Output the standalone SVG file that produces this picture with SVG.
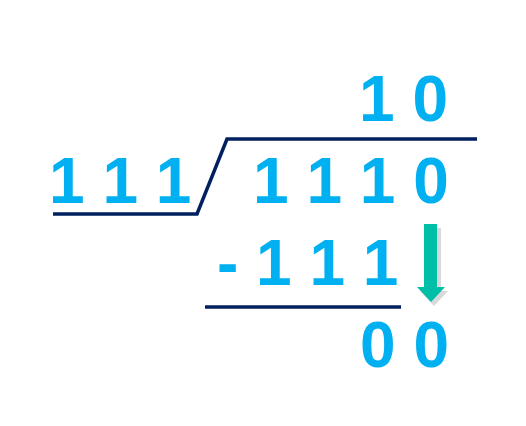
<svg xmlns="http://www.w3.org/2000/svg" width="526" height="426" viewBox="0 0 526 426">
<style>
.d{font-family:"Liberation Sans",Arial,sans-serif;font-weight:bold;font-size:64px;fill:#00B0F0;}
.ln{stroke:#002060;stroke-width:3.5;fill:none;}
</style>
<rect width="526" height="426" fill="#ffffff"/>
<g id="quotient"><text class="d" x="359" y="121" xml:space="preserve">1 0</text></g>
<g id="divisor"><text class="d" x="49" y="203" xml:space="preserve">1 1 1</text></g>
<g id="dividend"><text class="d" x="253" y="203" xml:space="preserve">1 1 1 0</text></g>
<g id="subtrahend"><text class="d" x="217" y="285" xml:space="preserve">- 1 1 1</text></g>
<g id="remainder"><text class="d" x="360" y="367" xml:space="preserve">0 0</text></g>
<g id="connectors">
<polyline class="ln" points="53,214 197,214 227,139 477,139"/>
<line class="ln" x1="205" y1="307" x2="401" y2="307"/>
<g id="arrow">
<polygon points="428,228 441,228 441,291 448,291 434,306 420,291 428,291" fill="#D9D9D9"/>
<polygon points="424,224 437,224 437,287 445,287 431,302 417,287 424,287" fill="#00BFA8"/>
</g>
</g>
</svg>
